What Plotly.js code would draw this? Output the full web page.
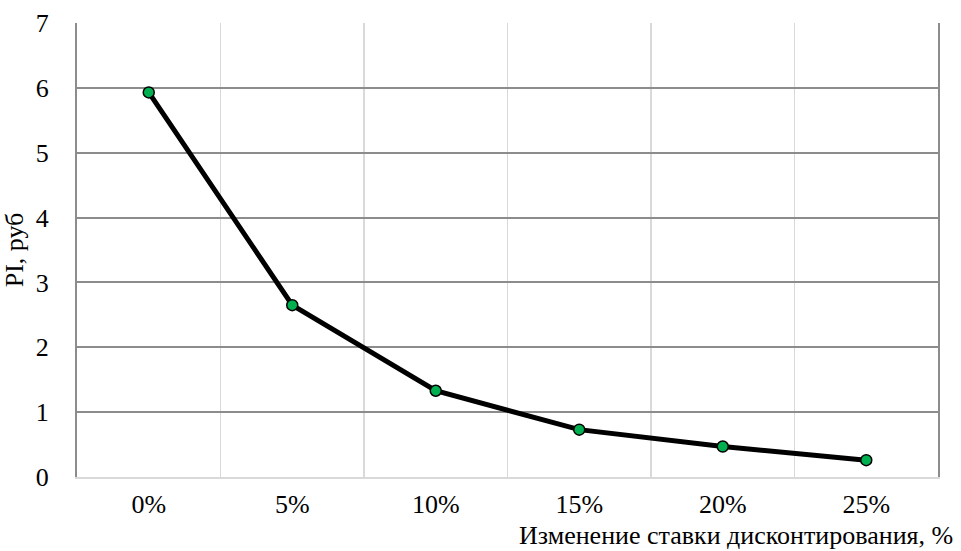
<!DOCTYPE html>
<html>
<head>
<meta charset="utf-8">
<script src="https://cdn.plot.ly/plotly-3.0.1.min.js"></script>
<style>
  html, body { margin: 0; padding: 0; background: #fff; }
  #chart { width: 961px; height: 551px; }
</style>
</head>
<body>
<div id="chart"></div>
<script>
// Discount-rate change categories and the profitability index (PI) at each
const rateChanges = ['0%', '5%', '10%', '15%', '20%', '25%'];
const piValues = [5.93, 2.65, 1.33, 0.73, 0.47, 0.26];
const yTicks = [0, 1, 2, 3, 4, 5, 6, 7];

const serif = '"Liberation Serif", "Times New Roman", serif';
const textFont = { family: serif, size: 26, color: '#000000' };

const trace = {
  type: 'scatter',
  mode: 'lines+markers',
  x: rateChanges,
  y: piValues,
  line: { color: '#000000', width: 5 },
  marker: { color: '#00b050', size: 11, line: { color: '#000000', width: 1.5 } },
  cliponaxis: false,
  hoverinfo: 'skip'
};

const layout = {
  width: 961,
  height: 551,
  paper_bgcolor: '#ffffff',
  plot_bgcolor: '#ffffff',
  showlegend: false,
  margin: { l: 77, r: 23, t: 23, b: 74 },
  font: textFont,
  xaxis: {
    type: 'category',
    range: [-0.5, 5.5],
    tickson: 'boundaries',
    showgrid: true,
    gridcolor: '#d9d9d9',
    gridwidth: 1.5,
    showline: true,
    linecolor: '#d9d9d9',
    linewidth: 2,
    ticks: '',
    ticklabelstandoff: 3,
    tickfont: textFont,
    zeroline: false,
    fixedrange: true
  },
  yaxis: {
    range: [0, 7],
    tickvals: yTicks,
    showgrid: true,
    gridcolor: '#8c8c8c',
    gridwidth: 2,
    showline: true,
    mirror: true,
    linecolor: '#8c8c8c',
    linewidth: 2,
    zeroline: false,
    ticks: '',
    ticklabelstandoff: 21,
    tickfont: textFont,
    title: { text: 'PI, руб', font: textFont, standoff: 5 },
    fixedrange: true
  },
  annotations: [{
    text: 'Изменение ставки дисконтирования, %',
    xref: 'paper', yref: 'paper',
    x: 1.0197, y: -0.128,
    xanchor: 'right', yanchor: 'middle',
    showarrow: false,
    font: textFont
  }]
};

Plotly.newPlot('chart', [trace], layout, { displayModeBar: false, staticPlot: true });
</script>
</body>
</html>
